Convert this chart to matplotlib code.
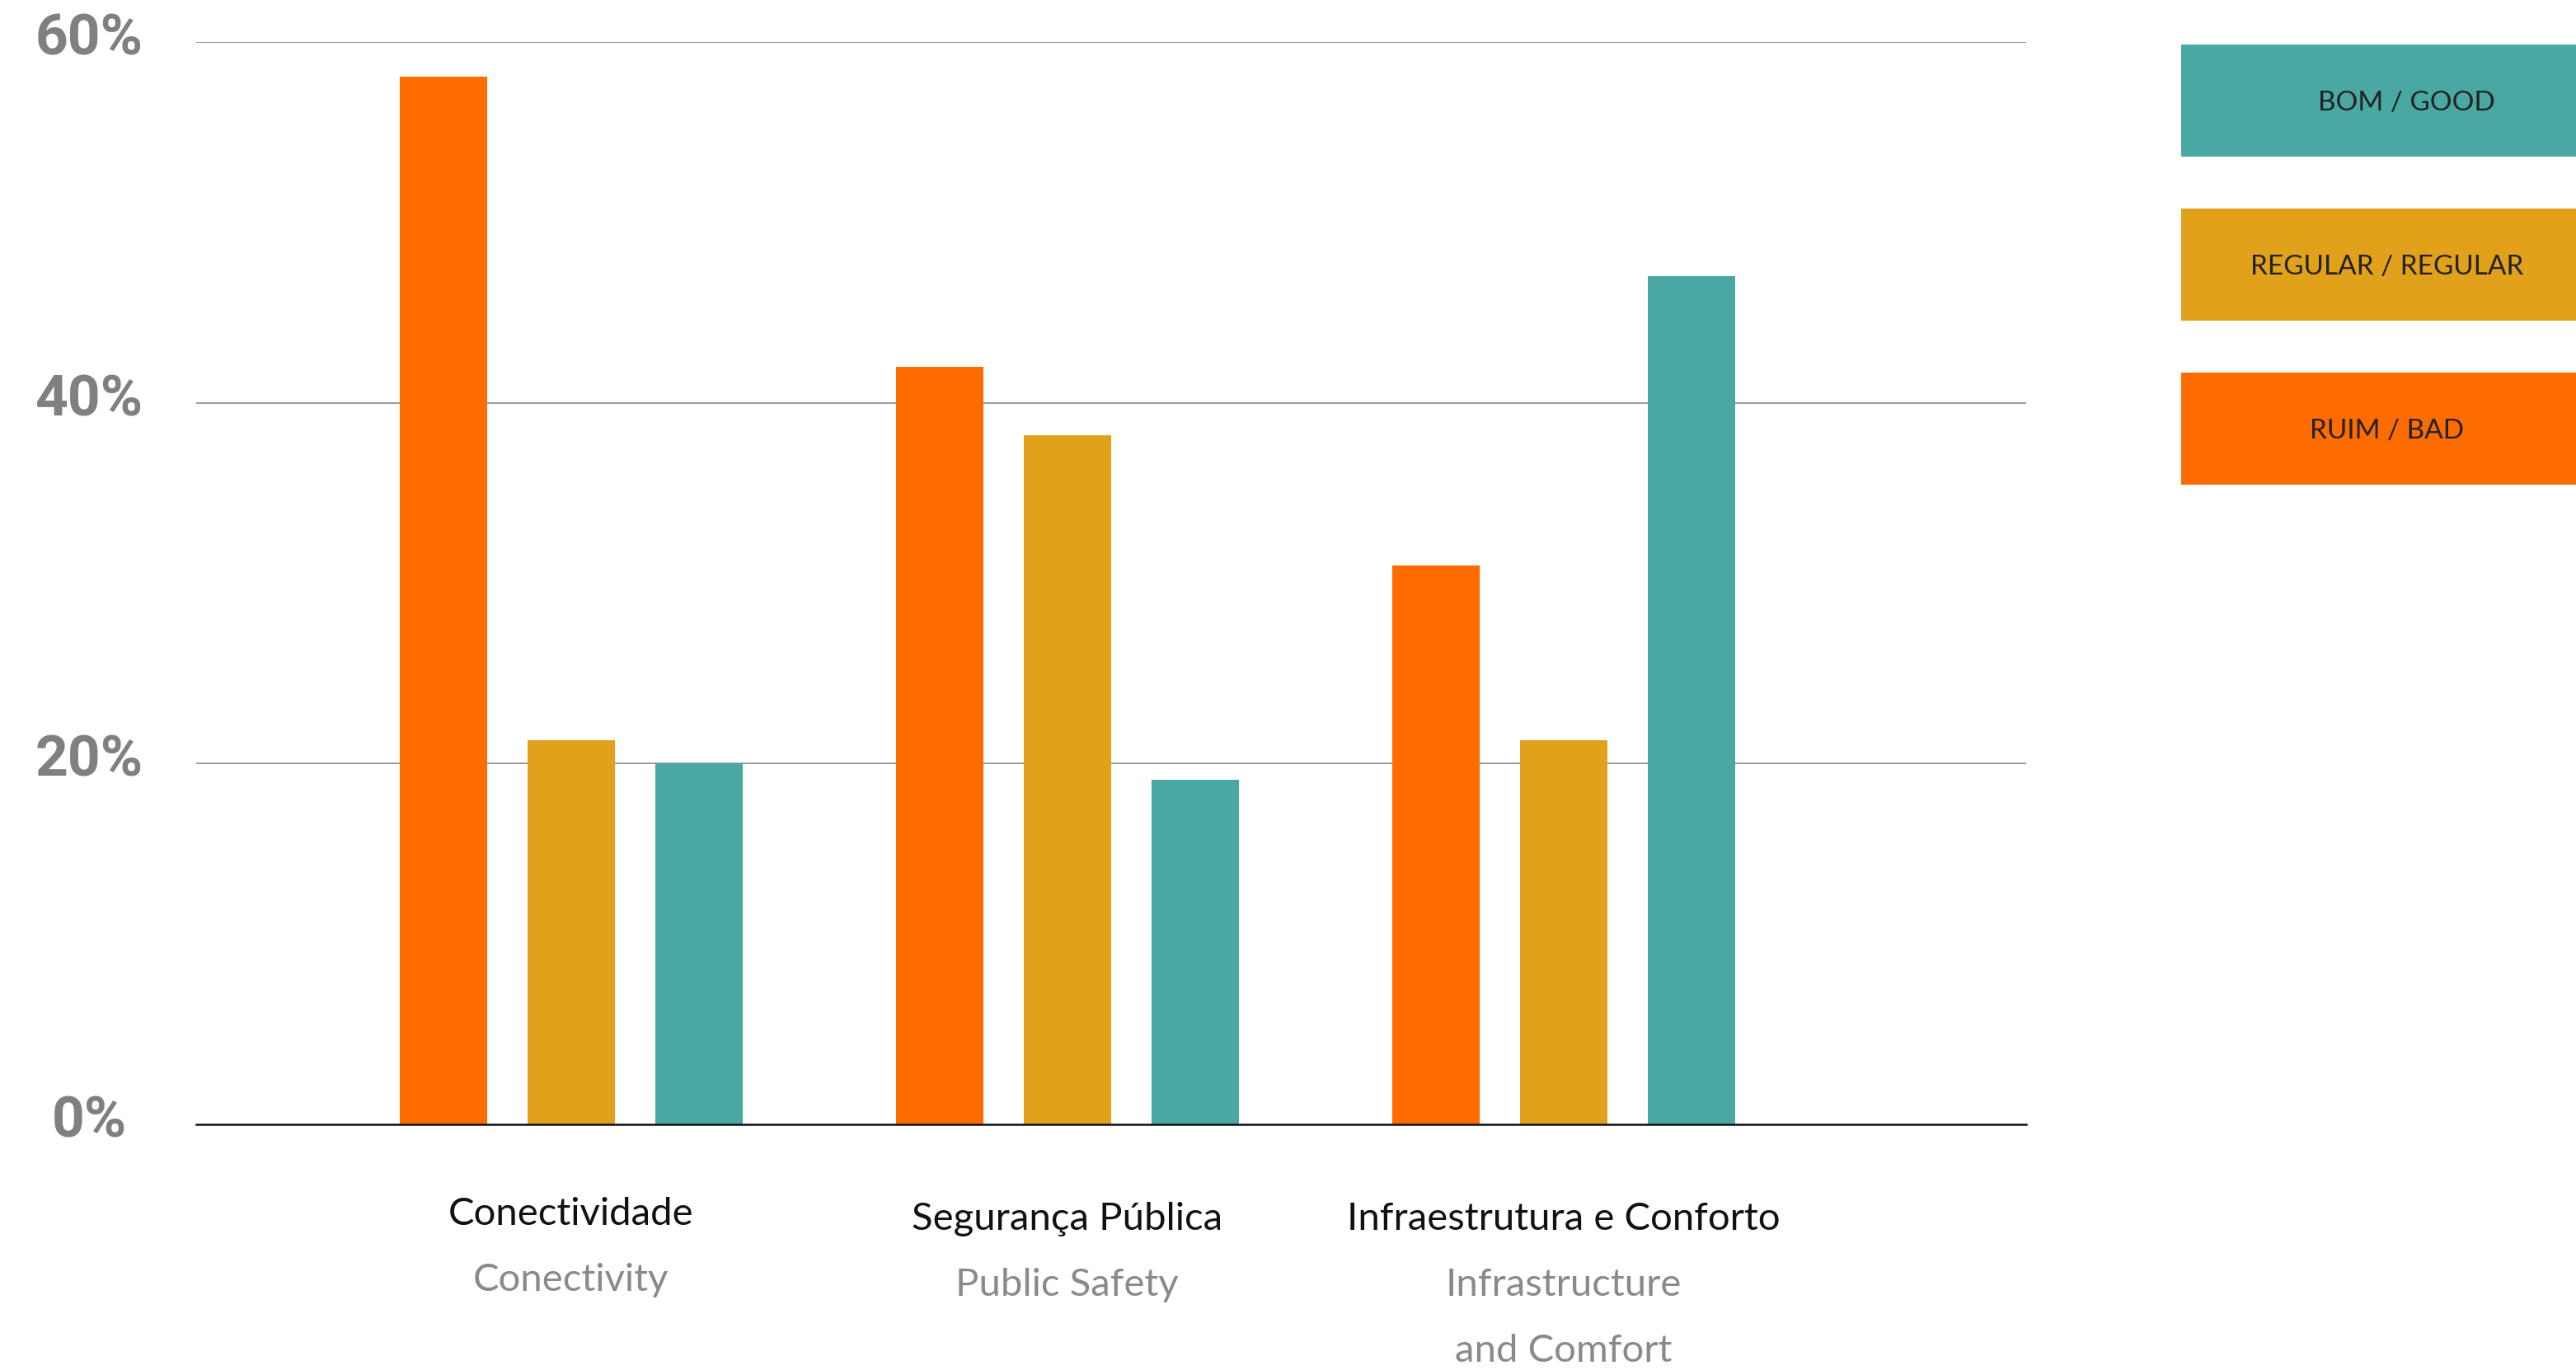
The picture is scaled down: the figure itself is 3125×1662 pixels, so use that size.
import matplotlib
matplotlib.use("Agg")
import matplotlib.pyplot as plt
import matplotlib.patches as mpatches
import matplotlib.transforms as mtransforms
import numpy as np

# data
categories_pt = ["Conectividade", "Segurança Pública", "Infraestrutura e Conforto"]
categories_en = [["Conectivity"], ["Public Safety"], ["Infrastructure", "and Comfort"]]
ruim = [58.1, 42.0, 31.0]
regular = [21.3, 38.2, 21.3]
bom = [20.0, 19.1, 47.0]
yticks = [0, 20, 40, 60]
ytick_labels = ["0%", "20%", "40%", "60%"]
legend_labels = ["BOM / GOOD", "REGULAR / REGULAR", "RUIM / BAD"]

C_BAD = "#FE6C00"
C_REG = "#E2A11A"
C_GOOD = "#4AA8A3"

W, H = 3125, 1662
fig = plt.figure(figsize=(W / 100, H / 100), dpi=100)
fig.patch.set_facecolor("white")

# axes placed by pixel extents of the reference
ax_l, ax_r, ax_t, ax_b = 238, 2458, 51, 1364
ax = fig.add_axes([ax_l / W, 1 - ax_b / H, (ax_r - ax_l) / W, (ax_b - ax_t) / H])

x = np.arange(len(categories_pt))
off = 0.2575
bw = 0.176
ax.bar(x - off, ruim, bw, color=C_BAD, zorder=3)
ax.bar(x, regular, bw, color=C_REG, zorder=3)
ax.bar(x + off, bom, bw, color=C_GOOD, zorder=3)

ax.set_xlim(-0.755, 2.932)
ax.set_ylim(0, 60)
for sp in ax.spines.values():
    sp.set_visible(False)
ax.set_xticks([])
ax.set_yticks([])

for v in yticks[1:]:
    ax.axhline(v, color="#8a8a8a", lw=1.2, zorder=1)
ax.axhline(0, color="#111111", lw=1.8, zorder=4, clip_on=False)

# y labels, centred left of the axis
tr = mtransforms.blended_transform_factory(fig.transFigure, ax.transData)
tr = tr + mtransforms.ScaledTranslation(0, 3 / 100, fig.dpi_scale_trans)
for v, lab in zip(yticks, ytick_labels):
    ax.text(108 / W, v, lab, transform=tr, ha="center", va="center",
            fontsize=50, fontweight="bold", family="Roboto", color="#808080")

# category labels
trc = mtransforms.blended_transform_factory(ax.transData, fig.transFigure)
y_pt = [1473, 1479, 1479]
for i in range(len(categories_pt)):
    ax.text(x[i], 1 - y_pt[i] / H, categories_pt[i], transform=trc,
            ha="center", va="center", fontsize=34, family="Lato", color="#111111")
    for j, line in enumerate(categories_en[i]):
        ax.text(x[i], 1 - (y_pt[i] + 80 * (j + 1)) / H, line, transform=trc,
                ha="center", va="center", fontsize=34, family="Lato", color="#8a8a8a")

# legend boxes on the right
box_tops = [54, 253, 452]
box_h = 136
box_colors = [C_GOOD, C_REG, C_BAD]
text_cx = [2919, 2896, 2896]
for top, col, lab, cx in zip(box_tops, box_colors, legend_labels, text_cx):
    fig.patches.append(mpatches.Rectangle((2646 / W, 1 - (top + box_h) / H),
                                          (W - 2646) / W, box_h / H,
                                          transform=fig.transFigure,
                                          facecolor=col, edgecolor="none", zorder=1))
    fig.text(cx / W, 1 - (top + box_h / 2 + 3) / H, lab, ha="center", va="center",
             fontsize=24, family="Lato", color="#222222", zorder=5)

fig.savefig("out.png", dpi=100)
